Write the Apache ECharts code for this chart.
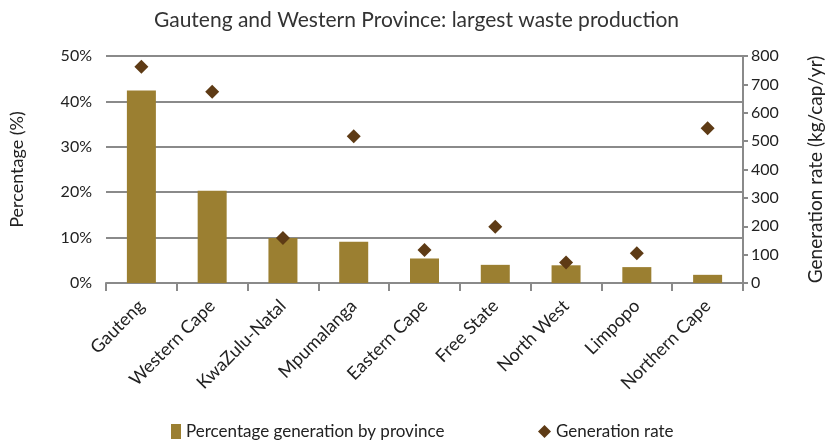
<!DOCTYPE html>
<html>
<head>
<meta charset="utf-8">
<script src="https://cdn.jsdelivr.net/npm/echarts@6/dist/echarts.min.js"></script>
<style>html,body{margin:0;padding:0;background:#fff}#c{width:833px;height:440px}</style>
</head>
<body>
<div id="c"></div>
<script>
const categories = ["Gauteng","Western Cape","KwaZulu-Natal","Mpumalanga","Eastern Cape","Free State","North West","Limpopo","Northern Cape"];
const percentageValues = [42.4, 20.3, 9.9, 9.1, 5.4, 4.0, 3.9, 3.5, 1.8];
const rateValues = [762, 674, 159, 517, 116, 198, 72, 105, 545];
const leftTicks = { min: 0, max: 50, interval: 10 };
const rightTicks = { min: 0, max: 800, interval: 100 };

const FONT = 'Lato';
const GRAY = '#8a8a8a';
const chart = echarts.init(document.getElementById('c'));
chart.setOption({
  animation: false,
  textStyle: { fontFamily: FONT },
  title: {
    text: 'Gauteng and Western Province: largest waste production',
    left: 'center', top: 5,
    textStyle: { fontFamily: FONT, fontSize: 21, fontWeight: 'normal', color: '#333' }
  },
  legend: [
    { data: [{ name: 'Percentage generation by province', icon: 'rect' }], left: 166, top: 418, itemWidth: 10, itemHeight: 15, itemGap: 6,
      textStyle: { fontFamily: FONT, fontSize: 17, color: '#222' } },
    { data: [{ name: 'Generation rate', icon: 'diamond' }], left: 533, top: 418, itemWidth: 13, itemHeight: 13, itemGap: 6,
      textStyle: { fontFamily: FONT, fontSize: 17, color: '#222' } }
  ],
  grid: { left: 106, right: 86, top: 56, bottom: 157, containLabel: false },
  xAxis: {
    type: 'category', data: categories, boundaryGap: true,
    axisLine: { lineStyle: { color: GRAY, width: 2 } },
    axisTick: { show: true, length: 8, lineStyle: { color: GRAY, width: 2 } },
    axisLabel: { rotate: 45, interval: 0, fontSize: 18, color: '#222', margin: 20, fontFamily: FONT }
  },
  yAxis: [
    { type: 'value', min: leftTicks.min, max: leftTicks.max, interval: leftTicks.interval,
      name: 'Percentage (%)', nameLocation: 'middle', nameGap: 80, nameRotate: 90,
      nameTextStyle: { fontSize: 18, color: '#222', fontFamily: FONT },
      axisLine: { show: false }, axisTick: { show: false },
      axisLabel: { formatter: '{value}%', fontSize: 16, color: '#222', margin: 14 },
      splitLine: { lineStyle: { color: GRAY, width: 2 } } },
    { type: 'value', min: rightTicks.min, max: rightTicks.max, interval: rightTicks.interval, position: 'right',
      name: 'Generation rate (kg/cap/yr)', nameLocation: 'middle', nameGap: 63, nameRotate: 90,
      nameTextStyle: { fontSize: 19, color: '#222', fontFamily: FONT },
      axisLine: { show: true, lineStyle: { color: GRAY, width: 2 } },
      axisTick: { show: true, length: 5, lineStyle: { color: GRAY, width: 2 } },
      axisLabel: { fontSize: 16, color: '#222', margin: 8 },
      splitLine: { show: false } }
  ],
  series: [
    { name: 'Percentage generation by province', type: 'bar', data: percentageValues, barWidth: 29,
      itemStyle: { color: '#9b7f31' }, yAxisIndex: 0 },
    { name: 'Generation rate', type: 'scatter', data: rateValues, yAxisIndex: 1, symbol: 'diamond', symbolSize: 14,
      itemStyle: { color: '#5e3b15', opacity: 1 } }
  ]
});
</script>
</body>
</html>
